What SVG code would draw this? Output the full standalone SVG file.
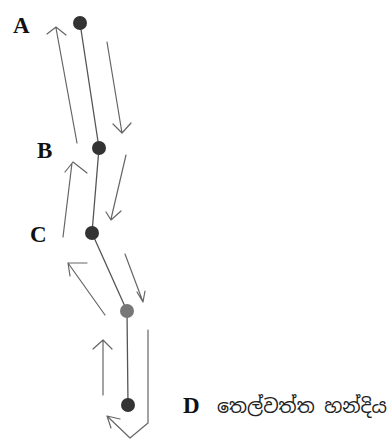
<svg xmlns="http://www.w3.org/2000/svg" width="392" height="442" viewBox="0 0 392 442">
<style>
.ln{stroke:#555;stroke-width:1.3;fill:none;stroke-linecap:round;stroke-linejoin:round}
.ar{stroke:#666;stroke-width:1.2;fill:none;stroke-linecap:round;stroke-linejoin:round}
.lbl{font-family:"Liberation Serif","Times New Roman",serif;font-weight:bold;font-size:23px;fill:#111}
.si{font-family:"Noto Sans Sinhala","Noto Serif Sinhala","Iskoola Pota",sans-serif;font-size:19px;fill:#222}
.dot{fill:#333}
</style>
<rect width="392" height="442" fill="#fff"/>
<g id="connectors">
<line class="ln" x1="80" y1="23" x2="99" y2="148"/>
<line class="ln" x1="99" y1="148" x2="92" y2="233"/>
<line class="ln" x1="92" y1="233" x2="127" y2="311"/>
<line class="ln" x1="127" y1="311" x2="128" y2="405"/>
<path class="ar" d="M77,143 L56,28 M47,34 L56,27 L66,35"/>
<path class="ar" d="M107,42 L122,133 M113,124 L122,133 L131,123"/>
<path class="ar" d="M63,237 L72,163 M65,172 L73,162 L87,173"/>
<path class="ar" d="M126,155 L111,219 M106,212 L111,220 L121,211"/>
<path class="ar" d="M105,315 L68,263 M87,263 L68,263 L70,276"/>
<path class="ar" d="M125,254 L143,302 M137,292 L143,302 L145,291"/>
<path class="ar" d="M103,395 L103,340 M93,349 L103,340 L112,349"/>
<path class="ar" d="M148,330 L148,423 L130,438 L107,416 M107,416 L120,419 M107,416 L111,428"/>
</g>
<g id="A"><circle class="dot" cx="80" cy="23" r="7"/><text class="lbl" x="13" y="33">A</text></g>
<g id="B"><circle class="dot" cx="99" cy="148" r="7" fill="#444"/><text class="lbl" x="37" y="158">B</text></g>
<g id="C"><circle class="dot" cx="92" cy="233" r="7"/><text class="lbl" x="30" y="242">C</text></g>
<g id="P4"><circle cx="127" cy="311" r="7" fill="#777"/></g>
<g id="D"><circle class="dot" cx="128" cy="405" r="7"/><text class="lbl" x="183" y="413">D</text><text class="si" x="217" y="413">තෙල්වත්ත හන්දිය</text></g>
</svg>
